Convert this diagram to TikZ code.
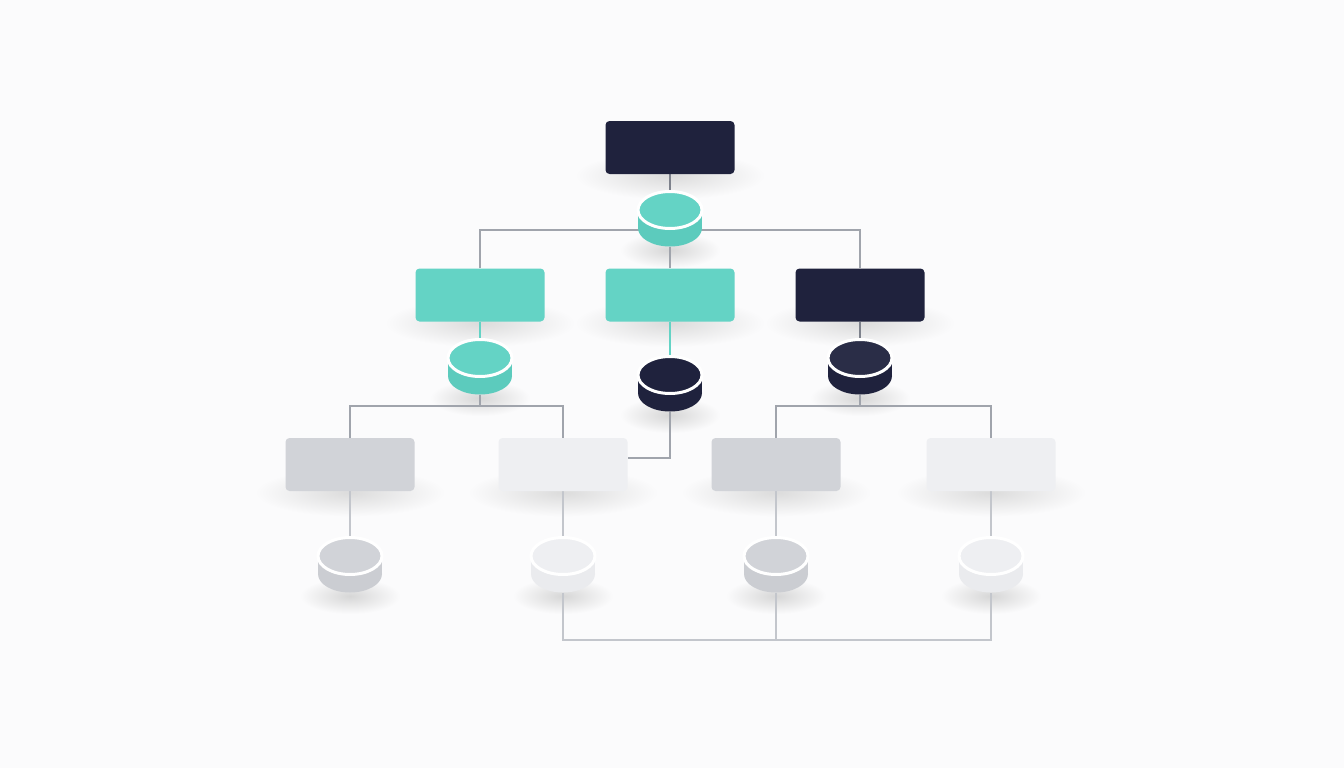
\documentclass[tikz,border=0pt]{standalone}
\pgfdeclarelayer{bgl}
\pgfdeclarelayer{shadow}
\pgfdeclarelayer{lines}
\pgfsetlayers{bgl,shadow,lines,main}
\definecolor{bg}{HTML}{FBFBFC}
\definecolor{navyc}{HTML}{1F223D}
\definecolor{navyb}{HTML}{2A2D47}
\definecolor{tealc}{HTML}{64D3C5}
\definecolor{tealside}{HTML}{5CCBBD}
\definecolor{grayc}{HTML}{D1D3D8}
\definecolor{grayside}{HTML}{CBCDD2}
\definecolor{lightc}{HTML}{EEEFF2}
\definecolor{lightside}{HTML}{EAEBEE}
\definecolor{linec}{HTML}{A0A4AC}
\definecolor{linel}{HTML}{C3C6CC}
\definecolor{lined}{HTML}{7E828C}
\tikzset{
  box/.style={rectangle, rounded corners=4pt, minimum width=129pt, minimum height=53pt, inner sep=0pt},
  pucknode/.style={rectangle, minimum width=64pt, minimum height=55pt, inner sep=0pt},
  conn/.style={draw=linec, line width=2pt},
  connl/.style={draw=linel, line width=2pt},
  connt/.style={draw=tealc, line width=2pt},
  connd/.style={draw=lined, line width=2pt},
}
\newcommand\mybox[4]{% name, cx, cy, colour
  \begin{pgfonlayer}{shadow}
    \shade[inner color=black!14, outer color=bg] (#2,#3+28) ellipse[x radius=95pt, y radius=24pt];
  \end{pgfonlayer}
  \node[box, fill=#4] (#1) at (#2,#3) {};
}
\newcommand\mypuck[5]{% name, cx, ty, top colour, side colour
  \begin{pgfonlayer}{shadow}
    \shade[inner color=black!16, outer color=bg] (#2,#3+40) ellipse[x radius=50pt, y radius=18pt];
  \end{pgfonlayer}
  \fill[#5] (#2-32,#3) rectangle (#2+32,#3+18);
  \fill[#5] (#2,#3+18) ellipse[x radius=32pt, y radius=18.5pt];
  \fill[#4, draw=white, line width=3pt] (#2,#3) ellipse[x radius=32pt, y radius=18.5pt];
  \node[pucknode] (#1) at (#2,#3+9) {};
}
\begin{document}
\begin{tikzpicture}[x=1pt, y=-1pt]
\useasboundingbox (0,0) rectangle (1344,768);
\begin{pgfonlayer}{bgl}
  \fill[bg] (0,0) rectangle (1344,768);
\end{pgfonlayer}

% boxes
\mybox{b0}{670}{147.5}{navyc}
\mybox{b1}{480}{295}{tealc}
\mybox{b2}{670}{295}{tealc}
\mybox{b3}{860}{295}{navyc}
\mybox{b4}{350}{464.5}{grayc}
\mybox{b5}{563}{464.5}{lightc}
\mybox{b6}{776}{464.5}{grayc}
\mybox{b7}{991}{464.5}{lightc}

% pucks
\mypuck{p0}{670}{210}{tealc}{tealside}
\mypuck{p1}{480}{358}{tealc}{tealside}
\mypuck{p2}{670}{375}{navyc}{navyc}
\mypuck{p3}{860}{358}{navyb}{navyc}
\mypuck{p4}{350}{556}{grayc}{grayside}
\mypuck{p5}{563}{556}{lightc}{lightside}
\mypuck{p6}{776}{556}{grayc}{grayside}
\mypuck{p7}{991}{556}{lightc}{lightside}

\coordinate (j0) at (670,230);
\coordinate (j1) at (480,406);
\coordinate (j3) at (860,406);
\coordinate (jb) at (776,640);

\begin{pgfonlayer}{lines}
  \draw[connd] (b0.south) -- (p0.north);
  \draw[conn] (b1.north) |- (j0) -| (b3.north);
  \draw[conn] (p0.south) -- (b2.north);
  \draw[connt] (b1.south) -- (p1.north);
  \draw[connt] (b2.south) -- (p2.north);
  \draw[connd] (b3.south) -- (p3.north);
  \draw[conn] (p1.south) -- (j1);
  \draw[conn] (b4.north) |- (j1) -| (b5.north);
  \draw[conn] (p3.south) -- (j3);
  \draw[conn] (b6.north) |- (j3) -| (b7.north);
  \draw[conn] (p2.south) |- ([yshift=6.5pt]b5.east);
  \draw[connl] (b4.south) -- (p4.north);
  \draw[connl] (b5.south) -- (p5.north);
  \draw[connl] (b6.south) -- (p6.north);
  \draw[connl] (b7.south) -- (p7.north);
  \draw[connl] (p5.south) |- (jb) -| (p7.south);
  \draw[connl] (p6.south) -- (jb);
\end{pgfonlayer}
\end{tikzpicture}
\end{document}
